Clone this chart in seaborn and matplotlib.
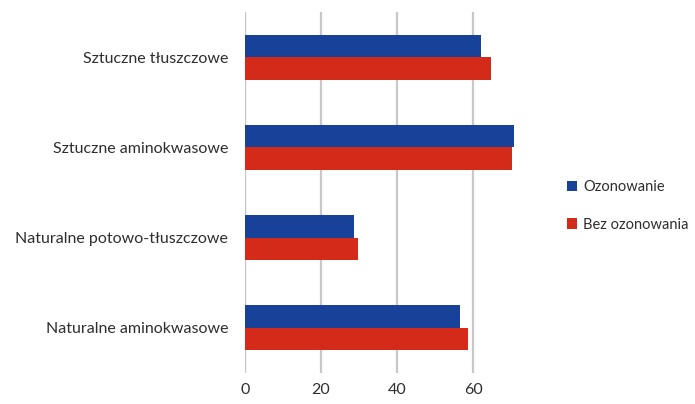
import pandas as pd
import matplotlib.pyplot as plt
import seaborn as sns

categories = ["Sztuczne tłuszczowe", "Sztuczne aminokwasowe",
              "Naturalne potowo-tłuszczowe", "Naturalne aminokwasowe"]
ozonowanie = [62.0, 70.8, 28.8, 56.7]
bez_ozonowania = [64.7, 70.3, 29.8, 58.7]
series = ["Ozonowanie", "Bez ozonowania"]

df = pd.DataFrame({
    "kategoria": categories * 2,
    "wartosc": ozonowanie + bez_ozonowania,
    "seria": [series[0]] * 4 + [series[1]] * 4,
})

sns.set_style("white")
plt.rcParams["font.family"] = ["Lato", "DejaVu Sans"]

fig = plt.figure(figsize=(6.95, 4.04), dpi=100)
ax = fig.add_axes([0.3525, 0.077, 0.4375, 0.893])

sns.barplot(data=df, y="kategoria", x="wartosc", hue="seria", orient="h",
            order=categories, hue_order=series,
            palette=["#18419a", "#d42a19"], width=0.5, saturation=1,
            edgecolor="none", linewidth=0, ax=ax)

ax.set_xlim(0, 80)
ax.set_xticks([0, 20, 40, 60])
ax.xaxis.grid(True, color="#c8c8c8", linewidth=1.6)
ax.set_axisbelow(True)
for s in ax.spines.values():
    s.set_visible(False)
ax.axvline(0, color="#c8c8c8", linewidth=1.6, zorder=0)
ax.set_xlabel("")
ax.set_ylabel("")
ax.tick_params(axis="both", length=0, labelsize=11.5, labelcolor="#2e2e2e")
ax.tick_params(axis="y", pad=12)
ax.tick_params(axis="x", pad=7)

ax.legend(loc="center left", bbox_to_anchor=(0.797, 0.49),
          bbox_transform=fig.transFigure, frameon=False, fontsize=10.5,
          handlelength=0.7, handleheight=0.7, handletextpad=0.4,
          labelspacing=1.6, labelcolor="#2e2e2e")

fig.savefig("out.png", dpi=100)
